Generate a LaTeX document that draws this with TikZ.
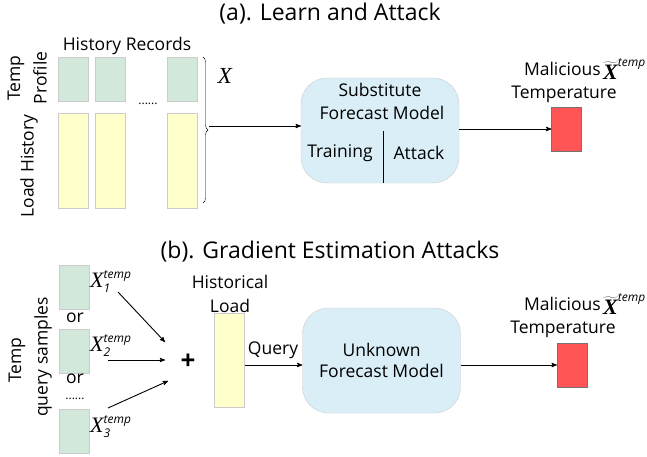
\documentclass[tikz,border=0pt]{standalone}
\usepackage{fontspec}
\setmainfont{Open Sans}
\newfontfamily\xserif{Liberation Serif}
\usetikzlibrary{shapes,arrows}
\usetikzlibrary{decorations.pathreplacing}
\definecolor{tempgreen}{HTML}{D2E8DA}
\definecolor{loadyellow}{HTML}{FFFFCC}
\definecolor{modelblue}{HTML}{DAEEF7}
\definecolor{malred}{HTML}{FF5555}

\begin{document}
\begin{tikzpicture}[x=1pt,y=-1pt,>=stealth',
  every node/.style={font=\fontsize{17.5}{21}\selectfont},
  title/.style={font=\fontsize{23}{26}\selectfont},
  bigx/.style={font=\fontsize{22}{22}\selectfont,inner sep=0pt},
  tempbox/.style={draw=black!20,fill=tempgreen,minimum width=30pt,minimum height=44pt,inner sep=0pt},
  loadbox/.style={draw=black!20,fill=loadyellow,minimum width=30pt,inner sep=0pt},
  modelbox/.style={draw=black!20,fill=modelblue,rounded corners=26pt,minimum width=158pt,minimum height=105pt,align=center},
  malbox/.style={draw=black!55,fill=malred,minimum width=30pt,minimum height=44pt,inner sep=0pt},
  arr/.style={->,line width=0.9pt}]
\useasboundingbox (0,0) rectangle (647,457);

% (a) learn and attack
\node[title] (titlea) at (330,14) {(a). Learn and Attack};
\node (records) at (127,46) {History Records};
\node[rotate=90] (tempa) at (16,78) {Temp};
\node[rotate=90] (profile) at (40,78) {Profile};
\node[rotate=90] (loadhist) at (29,166) {Load History};
\node[tempbox] (ga1) at (73,79) {};
\node[tempbox] (ga2) at (110,79) {};
\node[tempbox] (ga3) at (182,79) {};
\node[loadbox,minimum height=95pt] (ya1) at (73,160.5) {};
\node[loadbox,minimum height=95pt] (ya2) at (110,160.5) {};
\node[loadbox,minimum height=95pt] (ya3) at (182,160.5) {};
\node[inner sep=1pt] (dotsa) at (148,104) {\fontsize{12}{12}\selectfont ......};
\draw[decorate,decoration={brace,amplitude=5pt}] (203,57) -- (203,203);
\coordinate (bracetip) at (209,126);
\node[bigx] (xa) at (225,76) {\fontsize{23}{23}\selectfont\xserif\itshape X};

\node[modelbox] (modela) at (380,130.5) {};
\node (subst) at (380,90) {Substitute};
\node (fcasta) at (382,113) {Forecast Model};
\node (train) at (340,153) {Training};
\node (attack) at (419,153) {Attack};
\coordinate (divtop) at (383,131);
\draw[line width=1pt] (divtop) -- (divtop |- modela.south);
\draw[arr] (bracetip) -- (bracetip -| modela.west);

\node[malbox] (reda) at (566.5,129) {};
\node[anchor=east,inner sep=1pt] (mala) at (602,69) {Malicious};
\node[anchor=west,inner sep=0pt] (xtila) at (603,69) {$\widetilde{\mbox{\fontsize{22}{22}\selectfont\xserif\bfseries\itshape X}}^{\mbox{\fontsize{12}{12}\selectfont\itshape temp}}$};
\node[inner sep=1pt] (tempra) at (564,94) {Temperature};
\draw[arr] (modela.east |- reda.west) -- (reda.west);

% (b) gradient estimation attacks
\node[title] (titleb) at (330,252) {(b). Gradient Estimation Attacks};
\node[rotate=90] (tempb) at (17,360) {Temp};
\node[rotate=90] (query) at (43,357) {query samples};
\node[tempbox] (gb1) at (74.5,287) {};
\node[tempbox] (gb2) at (74.5,351) {};
\node[tempbox] (gb3) at (74.5,431.5) {};
\node[inner sep=1pt] (or1) at (75,318) {or};
\node[inner sep=1pt] (or2) at (75,379) {or};
\node[inner sep=1pt] (dotsb) at (75,399) {\fontsize{12}{12}\selectfont ......};
\node[bigx,anchor=west] (xb1) at (90,282) {$\mbox{\xserif\itshape X}^{\mbox{\fontsize{12}{12}\selectfont\itshape temp}}_{\mbox{\fontsize{12}{12}\selectfont\itshape 1}}$};
\node[bigx,anchor=west] (xb2) at (90,346) {$\mbox{\xserif\itshape X}^{\mbox{\fontsize{12}{12}\selectfont\itshape temp}}_{\mbox{\fontsize{12}{12}\selectfont\itshape 2}}$};
\node[bigx,anchor=west] (xb3) at (90,427) {$\mbox{\xserif\itshape X}^{\mbox{\fontsize{12}{12}\selectfont\itshape temp}}_{\mbox{\fontsize{12}{12}\selectfont\itshape 3}}$};
\node (plus) at (188,362) {\fontsize{26}{26}\selectfont\bfseries +};
\coordinate (s1) at (118,292);
\coordinate (s2) at (108,360);
\coordinate (s3) at (108,408);
\coordinate (h1) at (165,342);
\coordinate (h2) at (165,360);
\coordinate (h3) at (168,381);
\draw[arr] (s1) -- (h1);
\draw[arr] (s2) -- (h2);
\draw[arr] (s3) -- (h3);

\node (histor) at (230,282) {Historical};
\node (loadb) at (230,306) {Load};
\node[loadbox,minimum height=94pt] (yb) at (229.5,360) {};
\node[modelbox] (modelb) at (381.5,360.5) {Unknown\\Forecast Model};
\node (querylbl) at (273,350) {Query};
\draw[arr] (yb.east |- 0,365) -- (modelb.west |- 0,365);

\node[malbox] (redb) at (572,365) {};
\node[anchor=east,inner sep=1pt] (malb) at (602,304) {Malicious};
\node[anchor=west,inner sep=0pt] (xtilb) at (603,304) {$\widetilde{\mbox{\fontsize{22}{22}\selectfont\xserif\bfseries\itshape X}}^{\mbox{\fontsize{12}{12}\selectfont\itshape temp}}$};
\node[inner sep=1pt] (temprb) at (563,329) {Temperature};
\draw[arr] (modelb.east |- redb.west) -- (redb.west);
\end{tikzpicture}
\end{document}
